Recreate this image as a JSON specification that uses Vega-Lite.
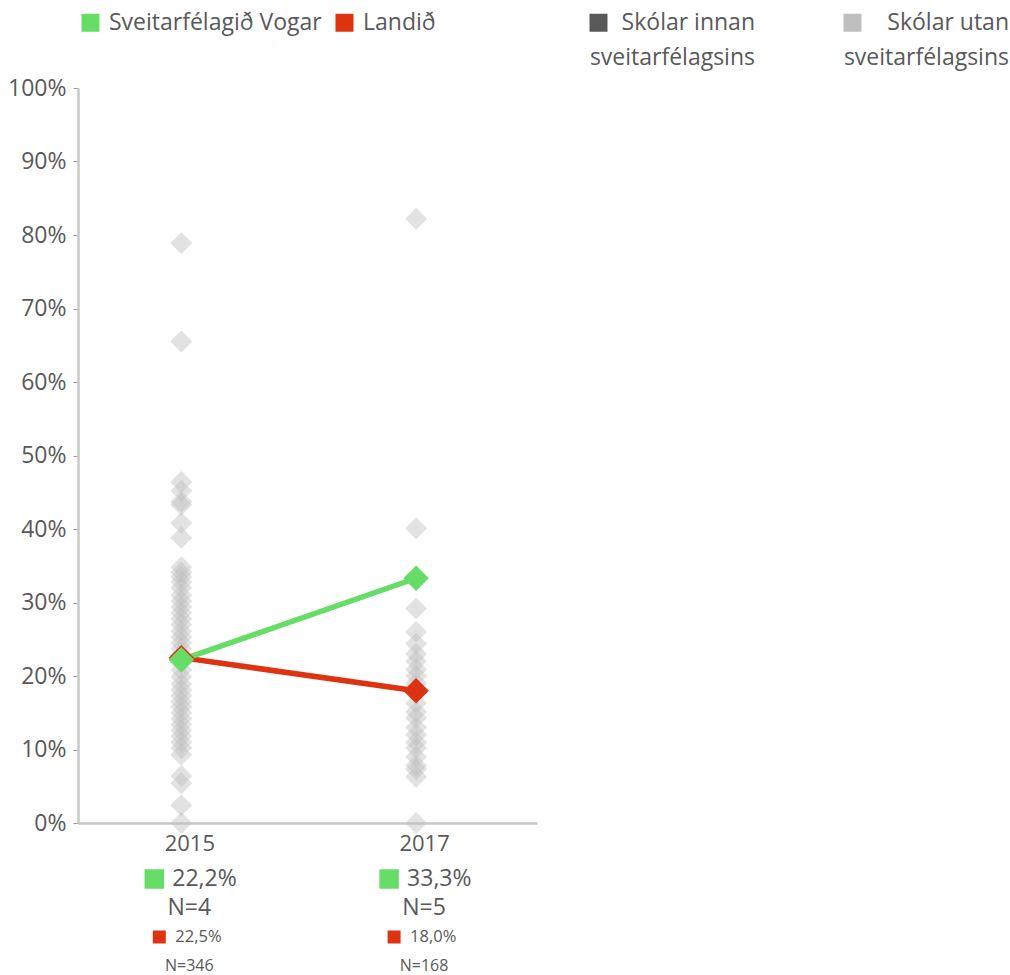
{
  "$schema": "https://vega.github.io/schema/vega-lite/v6.json",
  "padding": {"left": 7, "top": 10, "right": 2, "bottom": 2},
  "background": "white",
  "config": {
    "font": "Open Sans",
    "view": {"stroke": null},
    "legend": {"labelLimit": 400}
  },
  "datasets": {
    "main": [
      {"year": 2015, "series": "Landið", "value": 0.225},
      {"year": 2017, "series": "Landið", "value": 0.18},
      {"year": 2015, "series": "Sveitarfélagið Vogar", "value": 0.222},
      {"year": 2017, "series": "Sveitarfélagið Vogar", "value": 0.333}
    ],
    "schools": [
      {"year": 2015, "series": "Skólar utan sveitarfélagsins", "value": 0.789},
      {"year": 2015, "series": "Skólar utan sveitarfélagsins", "value": 0.655},
      {"year": 2015, "series": "Skólar utan sveitarfélagsins", "value": 0.464},
      {"year": 2015, "series": "Skólar utan sveitarfélagsins", "value": 0.452},
      {"year": 2015, "series": "Skólar utan sveitarfélagsins", "value": 0.437},
      {"year": 2015, "series": "Skólar utan sveitarfélagsins", "value": 0.433},
      {"year": 2015, "series": "Skólar utan sveitarfélagsins", "value": 0.408},
      {"year": 2015, "series": "Skólar utan sveitarfélagsins", "value": 0.388},
      {"year": 2015, "series": "Skólar utan sveitarfélagsins", "value": 0.348},
      {"year": 2015, "series": "Skólar utan sveitarfélagsins", "value": 0.341},
      {"year": 2015, "series": "Skólar utan sveitarfélagsins", "value": 0.335},
      {"year": 2015, "series": "Skólar utan sveitarfélagsins", "value": 0.328},
      {"year": 2015, "series": "Skólar utan sveitarfélagsins", "value": 0.32},
      {"year": 2015, "series": "Skólar utan sveitarfélagsins", "value": 0.31},
      {"year": 2015, "series": "Skólar utan sveitarfélagsins", "value": 0.302},
      {"year": 2015, "series": "Skólar utan sveitarfélagsins", "value": 0.294},
      {"year": 2015, "series": "Skólar utan sveitarfélagsins", "value": 0.286},
      {"year": 2015, "series": "Skólar utan sveitarfélagsins", "value": 0.278},
      {"year": 2015, "series": "Skólar utan sveitarfélagsins", "value": 0.27},
      {"year": 2015, "series": "Skólar utan sveitarfélagsins", "value": 0.261},
      {"year": 2015, "series": "Skólar utan sveitarfélagsins", "value": 0.253},
      {"year": 2015, "series": "Skólar utan sveitarfélagsins", "value": 0.245},
      {"year": 2015, "series": "Skólar utan sveitarfélagsins", "value": 0.237},
      {"year": 2015, "series": "Skólar utan sveitarfélagsins", "value": 0.229},
      {"year": 2015, "series": "Skólar utan sveitarfélagsins", "value": 0.218},
      {"year": 2015, "series": "Skólar utan sveitarfélagsins", "value": 0.208},
      {"year": 2015, "series": "Skólar utan sveitarfélagsins", "value": 0.199},
      {"year": 2015, "series": "Skólar utan sveitarfélagsins", "value": 0.189},
      {"year": 2015, "series": "Skólar utan sveitarfélagsins", "value": 0.181},
      {"year": 2015, "series": "Skólar utan sveitarfélagsins", "value": 0.173},
      {"year": 2015, "series": "Skólar utan sveitarfélagsins", "value": 0.165},
      {"year": 2015, "series": "Skólar utan sveitarfélagsins", "value": 0.158},
      {"year": 2015, "series": "Skólar utan sveitarfélagsins", "value": 0.15},
      {"year": 2015, "series": "Skólar utan sveitarfélagsins", "value": 0.142},
      {"year": 2015, "series": "Skólar utan sveitarfélagsins", "value": 0.134},
      {"year": 2015, "series": "Skólar utan sveitarfélagsins", "value": 0.126},
      {"year": 2015, "series": "Skólar utan sveitarfélagsins", "value": 0.118},
      {"year": 2015, "series": "Skólar utan sveitarfélagsins", "value": 0.11},
      {"year": 2015, "series": "Skólar utan sveitarfélagsins", "value": 0.102},
      {"year": 2015, "series": "Skólar utan sveitarfélagsins", "value": 0.093},
      {"year": 2015, "series": "Skólar utan sveitarfélagsins", "value": 0.064},
      {"year": 2015, "series": "Skólar utan sveitarfélagsins", "value": 0.054},
      {"year": 2015, "series": "Skólar utan sveitarfélagsins", "value": 0.024},
      {"year": 2015, "series": "Skólar utan sveitarfélagsins", "value": 0.0},
      {"year": 2017, "series": "Skólar utan sveitarfélagsins", "value": 0.822},
      {"year": 2017, "series": "Skólar utan sveitarfélagsins", "value": 0.401},
      {"year": 2017, "series": "Skólar utan sveitarfélagsins", "value": 0.292},
      {"year": 2017, "series": "Skólar utan sveitarfélagsins", "value": 0.26},
      {"year": 2017, "series": "Skólar utan sveitarfélagsins", "value": 0.244},
      {"year": 2017, "series": "Skólar utan sveitarfélagsins", "value": 0.23},
      {"year": 2017, "series": "Skólar utan sveitarfélagsins", "value": 0.22},
      {"year": 2017, "series": "Skólar utan sveitarfélagsins", "value": 0.209},
      {"year": 2017, "series": "Skólar utan sveitarfélagsins", "value": 0.2},
      {"year": 2017, "series": "Skólar utan sveitarfélagsins", "value": 0.19},
      {"year": 2017, "series": "Skólar utan sveitarfélagsins", "value": 0.177},
      {"year": 2017, "series": "Skólar utan sveitarfélagsins", "value": 0.163},
      {"year": 2017, "series": "Skólar utan sveitarfélagsins", "value": 0.151},
      {"year": 2017, "series": "Skólar utan sveitarfélagsins", "value": 0.143},
      {"year": 2017, "series": "Skólar utan sveitarfélagsins", "value": 0.13},
      {"year": 2017, "series": "Skólar utan sveitarfélagsins", "value": 0.12},
      {"year": 2017, "series": "Skólar utan sveitarfélagsins", "value": 0.11},
      {"year": 2017, "series": "Skólar utan sveitarfélagsins", "value": 0.102},
      {"year": 2017, "series": "Skólar utan sveitarfélagsins", "value": 0.09},
      {"year": 2017, "series": "Skólar utan sveitarfélagsins", "value": 0.078},
      {"year": 2017, "series": "Skólar utan sveitarfélagsins", "value": 0.073},
      {"year": 2017, "series": "Skólar utan sveitarfélagsins", "value": 0.063},
      {"year": 2017, "series": "Skólar utan sveitarfélagsins", "value": 0.0}
    ],
    "ann": [
      {"year": 2015, "row": "Vogar %", "label": "22,2%"},
      {"year": 2015, "row": "Vogar N", "label": "N=4"},
      {"year": 2015, "row": "Landið %", "label": "22,5%"},
      {"year": 2015, "row": "Landið N", "label": "N=346"},
      {"year": 2017, "row": "Vogar %", "label": "33,3%"},
      {"year": 2017, "row": "Vogar N", "label": "N=5"},
      {"year": 2017, "row": "Landið %", "label": "18,0%"},
      {"year": 2017, "row": "Landið N", "label": "N=168"}
    ]
  },
  "spacing": 14,
  "vconcat": [
    {
      "width": 459,
      "height": 735,
      "encoding": {
        "x": {"field": "year", "type": "quantitative",
          "scale": {"domain": [2014.12, 2018.03], "nice": false, "zero": false},
          "axis": {"values": [2015, 2017], "format": "d", "title": null, "grid": false, "ticks": false,
            "labelFontSize": 22, "labelColor": "#595959", "labelPadding": 10, "labelOffset": 8,
            "domainColor": "#c8c8c8", "domainWidth": 2.5}},
        "y": {"field": "value", "type": "quantitative",
          "scale": {"domain": [0, 1], "nice": false},
          "axis": {"values": [0, 0.1, 0.2, 0.3, 0.4, 0.5, 0.6, 0.7, 0.8, 0.9, 1], "format": ".0%", "title": null, "grid": false,
            "labelFontSize": 23, "labelColor": "#595959", "labelPadding": 7, "tickSize": 5,
            "tickColor": "#9a9a9a", "domainColor": "#c8c8c8", "domainWidth": 2.5}},
        "color": {"field": "series", "type": "nominal",
          "scale": {"domain": ["Sveitarfélagið Vogar", "Landið", "Skólar innan sveitarfélagsins", "Skólar utan sveitarfélagsins"],
            "range": ["#66dd66", "#dd3311", "#595959", "#bfbfbf"]},
          "legend": {"title": null, "orient": "top", "direction": "horizontal", "columns": 4, "gridAlign": "all",
            "symbolType": "square", "symbolSize": 324, "symbolStrokeWidth": 0, "symbolOpacity": 1,
            "labelFontSize": 23, "labelColor": "#595959", "labelOffset": 7, "columnPadding": 11, "offset": 6, "padding": 1,
            "labelExpr": "datum.label == 'Skólar innan sveitarfélagsins' ? ['Skólar innan', 'sveitarfélagsins'] : datum.label == 'Skólar utan sveitarfélagsins' ? ['Skólar utan', 'sveitarfélagsins'] : [datum.label, '']",
            "encode": {
              "symbols": {"update": {"fill": {"scale": "color", "field": "value"}, "strokeWidth": {"value": 0}, "opacity": {"value": 1}}},
              "labels": {"update": {
                "lineHeight": {"value": 35},
                "align": {"signal": "indexof(datum.value, 'Skólar') == 0 ? 'right' : 'left'"},
                "dx": {"signal": "indexof(datum.value, 'Skólar') == 0 ? 138 : 0"}
              }}
            }}
        }
      },
      "layer": [
        {"data": {"name": "schools"},
         "mark": {"type": "point", "shape": "diamond", "filled": true, "size": 480, "opacity": 0.45, "strokeWidth": 0}},
        {"data": {"name": "main"},
         "mark": {"type": "line", "strokeWidth": 5.5}},
        {"data": {"name": "main"},
         "mark": {"type": "point", "shape": "diamond", "filled": true, "size": 650, "opacity": 1, "strokeWidth": 0}}
      ]
    },
    {
      "width": 459,
      "height": 87,
      "data": {"name": "ann"},
      "encoding": {
        "x": {"field": "year", "type": "quantitative",
          "scale": {"domain": [2014.12, 2018.03], "nice": false, "zero": false}, "axis": null},
        "y": {"field": "row", "type": "nominal",
          "scale": {"type": "point", "domain": ["Vogar %", "Vogar N", "Landið %", "Landið N"], "padding": 0}, "axis": null}
      },
      "layer": [
        {"transform": [{"filter": "datum.row == 'Vogar %'"}],
         "mark": {"type": "point", "shape": "square", "filled": true, "size": 380, "color": "#66dd66", "opacity": 1, "xOffset": -27}},
        {"transform": [{"filter": "datum.row == 'Landið %'"}],
         "mark": {"type": "point", "shape": "square", "filled": true, "size": 169, "color": "#dd3311", "opacity": 1, "xOffset": -22}},
        {"transform": [{"filter": "datum.row == 'Vogar %'"}],
         "mark": {"type": "text", "align": "left", "dx": -9, "fontSize": 23, "color": "#595959"},
         "encoding": {"text": {"field": "label"}}},
        {"transform": [{"filter": "datum.row == 'Vogar N'"}],
         "mark": {"type": "text", "align": "center", "dx": 8, "fontSize": 23, "color": "#595959"},
         "encoding": {"text": {"field": "label"}}},
        {"transform": [{"filter": "datum.row == 'Landið %'"}],
         "mark": {"type": "text", "align": "left", "dx": -6, "fontSize": 16.5, "color": "#595959"},
         "encoding": {"text": {"field": "label"}}},
        {"transform": [{"filter": "datum.row == 'Landið N'"}],
         "mark": {"type": "text", "align": "center", "dx": 8, "fontSize": 16, "color": "#595959"},
         "encoding": {"text": {"field": "label"}}}
      ]
    }
  ]
}
